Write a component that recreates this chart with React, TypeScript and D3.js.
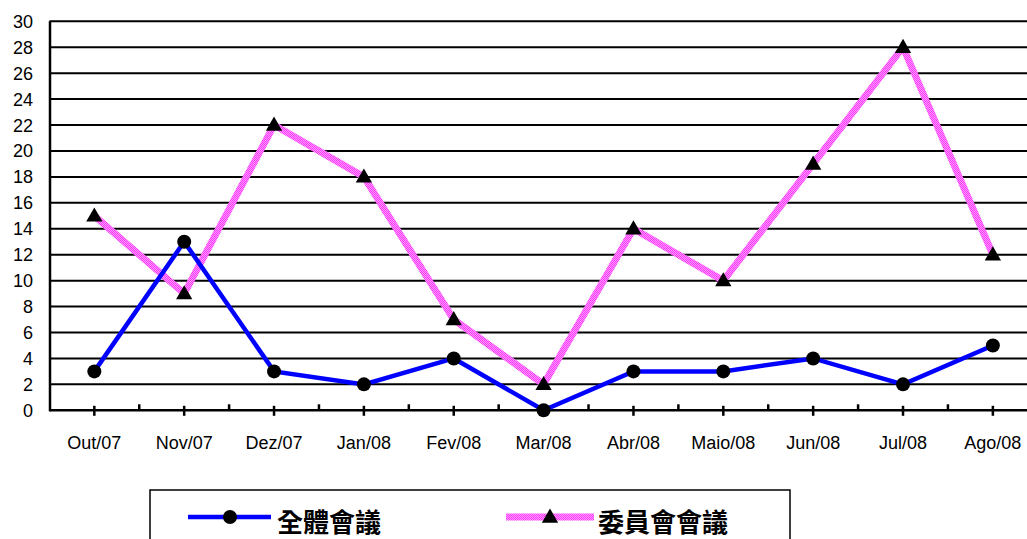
import React from "react";
import * as d3 from "d3";

const categories = ["Out/07", "Nov/07", "Dez/07", "Jan/08", "Fev/08", "Mar/08", "Abr/08", "Maio/08", "Jun/08", "Jul/08", "Ago/08"];
const plenary = [3, 13, 3, 2, 4, 0, 3, 3, 4, 2, 5];
const committee = [15, 9, 22, 18, 7, 2, 14, 10, 19, 28, 12];
const yTicks = d3.range(0, 31, 2);
const seriesNames = ["全體會議", "委員會會議"];

const W = 1027;
const H = 539;

export default function App() {
  const x = d3.scaleBand<string>().domain(categories).range([49.4, 1037.8]).paddingInner(0).paddingOuter(0);
  const y = d3.scaleLinear().domain([0, 30]).range([410.3, 21.3]);
  const bw = x.bandwidth();
  const cx = (c: string) => (x(c) as number) + bw / 2;
  const line = d3.line<number>().x((_, i) => cx(categories[i])).y((d) => y(d));
  const tri = d3.symbol().type(d3.symbolTriangle).size(115)();
  const font = "Arial, 'Liberation Sans', sans-serif";
  const x0 = 49.4;
  const x1 = 1037.8;
  const bounds = d3.range(categories.length + 1).map((i) => x0 + i * bw);

  return (
    <div style={{ position: "fixed", left: 0, top: 0 }}>
      <svg width={W} height={H} style={{ display: "block", background: "#fff" }}>
        <defs>
          <pattern id="pinkpat" patternUnits="userSpaceOnUse" width="2" height="2">
            <rect x="0" y="0" width="2" height="2" fill="#FF9CFF" />
            <rect x="0" y="0" width="1" height="1" fill="#FF33FF" />
            <rect x="1" y="1" width="1" height="1" fill="#FF33FF" />
          </pattern>
        </defs>
        {/* gridlines */}
        {yTicks.map((t) => (
          <line key={"g" + t} x1={x0} x2={x1} y1={y(t)} y2={y(t)} stroke="#000" strokeWidth={t === 0 ? 2.5 : 2} />
        ))}
        {/* y axis */}
        <line x1={50} x2={50} y1={y(30)} y2={y(0) + 1} stroke="#000" strokeWidth={2.5} />
        {yTicks.map((t) => (
          <text key={"yl" + t} x={33} y={y(t)} dy="0.36em" textAnchor="end" fontFamily={font} fontSize={18} fill="#000">
            {t}
          </text>
        ))}
        {/* x ticks */}
        {categories.map((c) => (
          <line key={"xt" + c} x1={cx(c)} x2={cx(c)} y1={y(0) - 4.5} y2={y(0) + 5.5} stroke="#000" strokeWidth={2.5} />
        ))}
        {bounds.slice(1).map((b, i) => (
          <line key={"xb" + i} x1={b} x2={b} y1={y(0) - 6} y2={y(0)} stroke="#000" strokeWidth={2.5} />
        ))}
        {categories.map((c) => (
          <text key={"xl" + c} x={cx(c)} y={449} textAnchor="middle" fontFamily={font} fontSize={18} fill="#000">
            {c}
          </text>
        ))}
        {/* series */}
        <path d={line(committee) || ""} fill="none" stroke="url(#pinkpat)" strokeWidth={7} strokeLinejoin="miter" />
        <path d={line(plenary) || ""} fill="none" stroke="#0000FF" strokeWidth={4.5} strokeLinejoin="miter" />
        {committee.map((v, i) => (
          <path key={"tr" + i} d={tri || ""} transform={`translate(${cx(categories[i])},${y(v) + 1})`} fill="#000" />
        ))}
        {plenary.map((v, i) => (
          <circle key={"ci" + i} cx={cx(categories[i])} cy={y(v)} r={7} fill="#000" />
        ))}
        {/* legend */}
        <rect x={150} y={490} width={640} height={70} fill="#fff" stroke="#000" strokeWidth={1.5} />
        <line x1={188} x2={271} y1={517} y2={517} stroke="#0000FF" strokeWidth={4.5} />
        <circle cx={230} cy={517} r={7} fill="#000" />
        <text x={277} y={520} dominantBaseline="central" fontFamily="'Noto Sans CJK TC', 'Noto Sans CJK SC', sans-serif" fontWeight="bold" fontSize={26} fill="#000">
          {seriesNames[0]}
        </text>
        <line x1={506} x2={594} y1={517} y2={517} stroke="url(#pinkpat)" strokeWidth={7} />
        <path d={tri || ""} transform={`translate(550,518)`} fill="#000" />
        <text x={598} y={520} dominantBaseline="central" fontFamily="'Noto Sans CJK TC', 'Noto Sans CJK SC', sans-serif" fontWeight="bold" fontSize={26} fill="#000">
          {seriesNames[1]}
        </text>
      </svg>
    </div>
  );
}
